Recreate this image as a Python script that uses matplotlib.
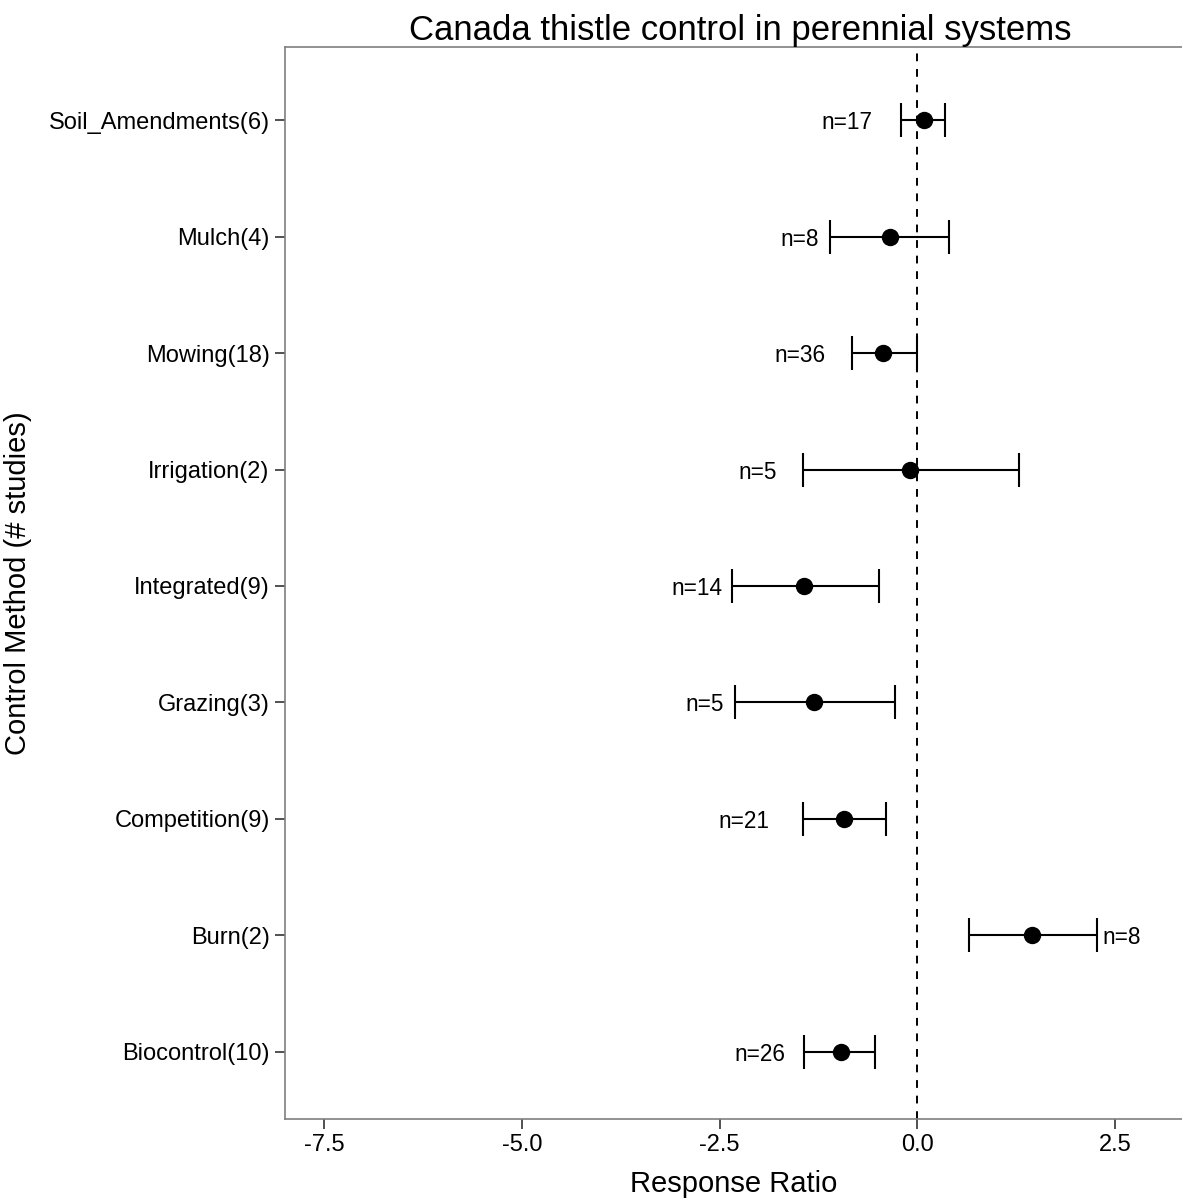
import matplotlib
matplotlib.use("Agg")
import matplotlib.pyplot as plt

plt.rcParams["font.family"] = ["Liberation Sans", "DejaVu Sans"]

# Data, listed bottom to top
methods = ["Biocontrol(10)", "Burn(2)", "Competition(9)", "Grazing(3)",
           "Integrated(9)", "Irrigation(2)", "Mowing(18)", "Mulch(4)",
           "Soil_Amendments(6)"]
effect = [-0.97, 1.45, -0.93, -1.30, -1.43, -0.09, -0.43, -0.35, 0.08]
ci_low = [-1.43, 0.66, -1.45, -2.30, -2.35, -1.45, -0.82, -1.10, -0.20]
ci_high = [-0.53, 2.27, -0.39, -0.28, -0.49, 1.29, 0.00, 0.40, 0.35]
n_labels = ["n=26", "n=8", "n=21", "n=5", "n=14", "n=5", "n=36", "n=8", "n=17"]
label_x = [-1.67, 2.34, -1.87, -2.45, -2.46, -1.77, -1.16, -1.25, -0.57]
label_ha = ["right", "left", "right", "right", "right", "right", "right",
            "right", "right"]
xticks = [-7.5, -5.0, -2.5, 0.0, 2.5]

fig = plt.figure(figsize=(11.82, 11.99), dpi=100)
ax = fig.add_axes([0.2411, 0.0667, 0.7589, 0.8941])

ypos = list(range(1, len(methods) + 1))

ax.axvline(0, color="black", linestyle=(0, (4, 4)), linewidth=1.4, zorder=1)

err_lo = [e - l for e, l in zip(effect, ci_low)]
err_hi = [h - e for e, h in zip(effect, ci_high)]
ax.errorbar(effect, ypos, xerr=[err_lo, err_hi], fmt="o", color="black",
            markersize=11.5, elinewidth=1.5, capsize=12, capthick=1.5,
            zorder=3)

for y, lx, txt, ha in zip(ypos, label_x, n_labels, label_ha):
    ax.text(lx, y, txt, ha=ha, va="center_baseline", fontsize=16.3)

ax.set_xlim(-8.0, 3.35)
ax.set_ylim(0.42, 9.63)
ax.set_xticks(xticks)
ax.set_xticklabels([f"{t:.1f}" for t in xticks])
ax.set_yticks(ypos)
ax.set_yticklabels(methods)

for s in ax.spines.values():
    s.set_color("#7f7f7f")
    s.set_linewidth(1.2)
ax.spines["right"].set_visible(False)

ax.tick_params(axis="both", length=7, width=1.2, color="#333333",
               labelsize=17, labelcolor="black", pad=4)

ax.set_xlabel("Response Ratio", fontsize=21, labelpad=10)
ax.set_ylabel("Control Method (# studies)", fontsize=21, labelpad=12)
ax.set_title("Canada thistle control in perennial systems", fontsize=25,
             pad=5, x=0.508)

fig.savefig("out.png", dpi=100)
